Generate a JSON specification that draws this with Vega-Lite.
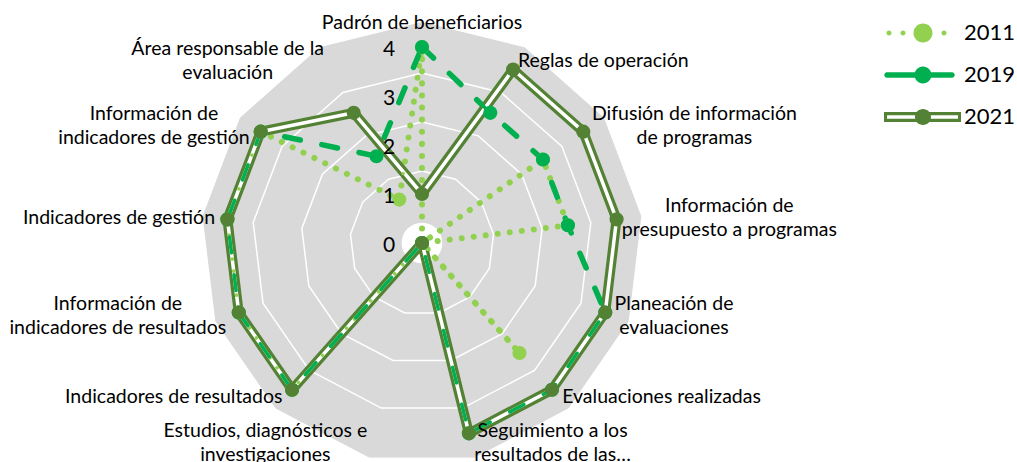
{
  "$schema": "https://vega.github.io/schema/vega-lite/v6.json",
  "width": 1017,
  "height": 462,
  "autosize": {"type": "none"},
  "padding": 0,
  "background": "white",
  "config": {"view": {"stroke": null}, "font": "Lato"},
  "datasets": {
    "radar": [
      {"idx": 0, "label": "Padrón de beneficiarios", "2011": 4, "2019": 4, "2021": 1},
      {"idx": 1, "label": "Reglas de operación", "2011": 0, "2019": 3, "2021": 4},
      {"idx": 2, "label": "Difusión de información\nde programas", "2011": 3, "2019": 3, "2021": 4},
      {"idx": 3, "label": "Información de\npresupuesto a programas", "2011": 3, "2019": 3, "2021": 4},
      {"idx": 4, "label": "Planeación de\nevaluaciones", "2011": 0, "2019": 4, "2021": 4},
      {"idx": 5, "label": "Evaluaciones realizadas", "2011": 3, "2019": 4, "2021": 4},
      {"idx": 6, "label": "Seguimiento a los\nresultados de las…", "2011": 0, "2019": 4, "2021": 4},
      {"idx": 7, "label": "Estudios, diagnósticos e\ninvestigaciones", "2011": 0, "2019": 0, "2021": 0},
      {"idx": 8, "label": "Indicadores de resultados", "2011": 4, "2019": 4, "2021": 4},
      {"idx": 9, "label": "Información de\nindicadores de resultados", "2011": 4, "2019": 4, "2021": 4},
      {"idx": 10, "label": "Indicadores de gestión", "2011": 4, "2019": 4, "2021": 4},
      {"idx": 11, "label": "Información de\nindicadores de gestión", "2011": 4, "2019": 4, "2021": 4},
      {"idx": 12, "label": "Área responsable de la\nevaluación", "2011": 1, "2019": 2, "2021": 3}
    ],
    "ticks": [{"t": 0}, {"t": 1}, {"t": 2}, {"t": 3}, {"t": 4}]
  },
  "data": {"name": "radar"},
  "encoding": {
    "x": {"field": "x", "type": "quantitative", "scale": {"domain": [-8.6122, 12.1429], "nice": false, "zero": false}, "axis": null},
    "y": {"field": "y", "type": "quantitative", "scale": {"domain": [-4.4694, 4.9592], "nice": false, "zero": false}, "axis": null}
  },
  "layer": [
    {
      "transform": [
        {"calculate": "datum.idx * 2 * PI / 13", "as": "a"},
        {"calculate": "4.5 * sin(datum.a)", "as": "x"},
        {"calculate": "4.5 * cos(datum.a)", "as": "y"}
      ],
      "mark": {"type": "line", "interpolate": "linear-closed", "fill": "#D9D9D9", "stroke": "#D9D9D9", "strokeWidth": 1},
      "encoding": {"order": {"field": "idx", "type": "quantitative"}}
    },
    {
      "transform": [
        {"calculate": "datum.idx * 2 * PI / 13", "as": "a"},
        {"calculate": "[1.47, 2.47, 3.47]", "as": "ring"},
        {"flatten": ["ring"]},
        {"calculate": "datum.ring * sin(datum.a)", "as": "x"},
        {"calculate": "datum.ring * cos(datum.a)", "as": "y"}
      ],
      "mark": {"type": "line", "interpolate": "linear-closed", "stroke": "white", "strokeWidth": 1.5},
      "encoding": {"order": {"field": "idx", "type": "quantitative"}, "detail": {"field": "ring", "type": "nominal"}}
    },
    {
      "data": {"name": "ticks"},
      "transform": [
        {"filter": "datum.t == 0"},
        {"calculate": "datum.t", "as": "x"},
        {"calculate": "datum.t", "as": "y"}
      ],
      "mark": {"type": "point", "filled": true, "color": "white", "opacity": 1, "size": 1660}
    },
    {
      "transform": [
        {"fold": ["2011", "2019", "2021"], "as": ["year", "value"]},
        {"calculate": "datum.idx * 2 * PI / 13", "as": "a"},
        {"calculate": "datum.value * sin(datum.a)", "as": "x"},
        {"calculate": "datum.value * cos(datum.a)", "as": "y"}
      ],
      "layer": [
        {
          "transform": [{"filter": "datum.year == '2011'"}],
          "mark": {"type": "line", "interpolate": "linear-closed", "color": "#92D050", "strokeWidth": 6, "strokeDash": [0.1, 12], "strokeCap": "round"},
          "encoding": {"order": {"field": "idx", "type": "quantitative"}}
        },
        {
          "transform": [{"filter": "datum.year == '2019'"}],
          "mark": {"type": "line", "interpolate": "linear-closed", "color": "#00B050", "strokeWidth": 5.5, "strokeDash": [16, 22], "strokeCap": "round"},
          "encoding": {"order": {"field": "idx", "type": "quantitative"}}
        },
        {
          "transform": [{"filter": "datum.year == '2021'"}],
          "mark": {"type": "line", "interpolate": "linear-closed", "color": "#548235", "strokeWidth": 10, "strokeJoin": "round"},
          "encoding": {"order": {"field": "idx", "type": "quantitative"}}
        },
        {
          "transform": [{"filter": "datum.year == '2021'"}],
          "mark": {"type": "line", "interpolate": "linear-closed", "color": "white", "strokeWidth": 3.5, "strokeJoin": "round"},
          "encoding": {"order": {"field": "idx", "type": "quantitative"}}
        },
        {
          "transform": [{"filter": "datum.year == '2011'"}],
          "mark": {"type": "line", "interpolate": "linear-closed", "color": "#92D050", "strokeWidth": 3.5, "strokeDash": [0.1, 12], "strokeCap": "round"},
          "encoding": {"order": {"field": "idx", "type": "quantitative"}}
        },
        {
          "transform": [{"filter": "datum.year == '2019'"}],
          "mark": {"type": "line", "interpolate": "linear-closed", "color": "#00B050", "strokeWidth": 3.5, "strokeDash": [16, 22], "strokeCap": "round"},
          "encoding": {"order": {"field": "idx", "type": "quantitative"}}
        },
        {
          "mark": {"type": "point", "filled": true, "size": 200, "opacity": 1},
          "encoding": {
            "order": {"field": "year", "type": "ordinal"},
            "color": {
              "field": "year",
              "type": "nominal",
              "scale": {"domain": ["2011", "2019", "2021"], "range": ["#92D050", "#00B050", "#548235"]},
              "legend": {
                "title": null,
                "orient": "none",
                "legendX": 912,
                "legendY": 22,
                "padding": 0,
                "symbolSize": 400,
                "symbolOpacity": 1,
                "symbolStrokeWidth": 0,
                "symbolType": {"expr": "datum.value == '2011' ? 'M-3.15,0A0.25,0.25 0 1 1 -3.65,0A0.25,0.25 0 1 1 -3.15,0ZM-1.75,0A0.25,0.25 0 1 1 -2.25,0A0.25,0.25 0 1 1 -1.75,0ZM2.35,0A0.25,0.25 0 1 1 1.85,0A0.25,0.25 0 1 1 2.35,0ZM0.95,0A0.95,0.95 0 1 1 -0.95,0A0.95,0.95 0 1 1 0.95,0Z' : datum.value == '2019' ? 'M-3.6,-0.27H2.9A0.27,0.27 0 0 1 2.9,0.27H-3.6A0.27,0.27 0 0 1 -3.6,-0.27ZM0.85,0A0.85,0.85 0 1 1 -0.85,0A0.85,0.85 0 1 1 0.85,0Z' : 'M-3.9,-0.5H3.8V0.5H-3.9ZM-3.6,-0.17V0.17H3.5V-0.17ZM0.8,0A0.8,0.8 0 1 1 -0.8,0A0.8,0.8 0 1 1 0.8,0Z'"},
                "labelOffset": 30,
                "labelFont": "Lato",
                "labelFontSize": 22,
                "labelColor": "black",
                "rowPadding": 20
              }
            }
          }
        }
      ]
    },
    {
      "transform": [
        {"calculate": "datum.idx * 2 * PI / 13", "as": "a"},
        {"calculate": "split(datum.label, '\\n')", "as": "lines"},
        {"calculate": "max(length(datum.lines[0]), datum.lines.length > 1 ? length(datum.lines[1]) : 0) * 8.7", "as": "w"},
        {"calculate": "sin(datum.a) > 0.1 ? 1 : (sin(datum.a) < -0.1 ? -1 : 0)", "as": "s"},
        {"calculate": "4.2 * sin(datum.a) + datum.s * (datum.w / 2 + 3) / 49", "as": "x"},
        {"calculate": "4.2 * cos(datum.a) + (datum.s == 0 ? (cos(datum.a) > 0 ? 1 : -1) * 14 / 49 : 0) + (datum.lines.length - 1) * 12 / 49", "as": "y"}
      ],
      "mark": {"type": "text", "align": "center", "baseline": "middle", "lineBreak": "\n", "lineHeight": 24, "fontSize": 19.5, "font": "Lato", "color": "black"},
      "encoding": {"text": {"field": "label", "type": "nominal"}}
    },
    {
      "data": {"name": "ticks"},
      "transform": [
        {"calculate": "0", "as": "x"},
        {"calculate": "datum.t", "as": "y"}
      ],
      "mark": {"type": "text", "align": "center", "baseline": "middle", "dx": -33, "dy": 3, "fontSize": 21, "font": "Lato", "color": "black"},
      "encoding": {"text": {"field": "t", "type": "quantitative"}}
    }
  ]
}
